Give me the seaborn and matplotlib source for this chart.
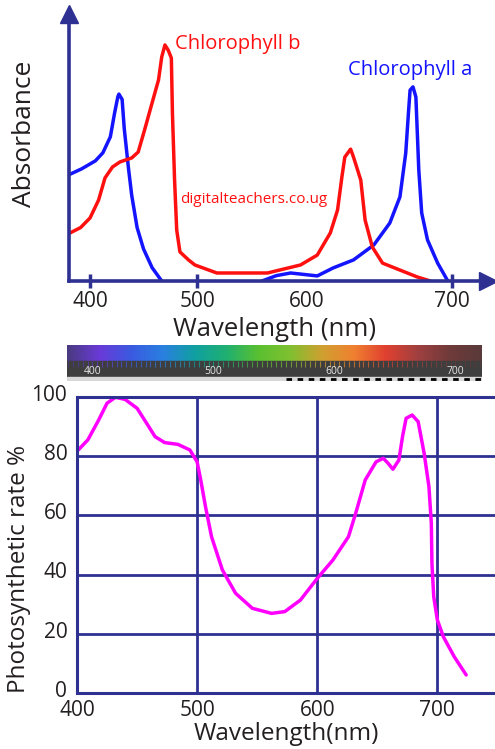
"""
Absorption spectra of chlorophyll a / b and the action spectrum of photosynthesis
"""

import numpy as np
import pandas as pd
import matplotlib
matplotlib.use('Agg')
import matplotlib.pyplot as plt
from matplotlib.colors import LinearSegmentedColormap
from matplotlib.transforms import ScaledTranslation
import seaborn as sns

sns.set_style('white')
plt.rcParams['font.family'] = ['Open Sans', 'DejaVu Sans']

# ---- data ----
# chlorophyll a absorbance (two traced pieces of the curve)
chl_a_blue_nm = [381, 392, 405, 412, 419, 423, 426, 427, 430, 432, 436, 439, 444, 450, 458, 467]
chl_a_blue_abs = [0.40, 0.42, 0.45, 0.48, 0.54, 0.63, 0.69, 0.70, 0.68, 0.57, 0.42, 0.32,
                  0.20, 0.12, 0.05, 0.0]
chl_a_red_nm = [559, 572, 585, 594, 607, 618, 632, 646, 657, 664, 668, 670, 671, 673, 675,
                677, 679, 683, 690, 697]
chl_a_red_abs = [0.0, 0.02, 0.03, 0.026, 0.019, 0.049, 0.079, 0.135, 0.217, 0.315, 0.479,
                 0.64, 0.715, 0.727, 0.689, 0.416, 0.255, 0.154, 0.067, 0.0]

# chlorophyll b absorbance
chl_b_nm = [381, 391, 400, 408, 414, 421, 428, 439, 445, 451, 458, 464, 467, 470, 473, 476,
            477, 479, 481, 484, 492, 498, 518, 564, 594, 607, 616, 621, 624, 626, 630, 632,
            637, 640, 645, 652, 664, 676, 685]
chl_b_abs = [0.18, 0.20, 0.236, 0.303, 0.386, 0.427, 0.446, 0.461, 0.483, 0.566, 0.667,
             0.753, 0.839, 0.884, 0.865, 0.835, 0.629, 0.378, 0.191, 0.109, 0.079, 0.06,
             0.03, 0.03, 0.06, 0.097, 0.18, 0.266, 0.39, 0.464, 0.494, 0.464, 0.378, 0.228,
             0.127, 0.067, 0.041, 0.015, 0.0]

# photosynthetic rate (action spectrum), %
action_nm = [401, 409, 418, 425, 432, 440, 450, 458, 465, 473, 484, 494, 500, 503, 507, 512,
             521, 532, 546, 562, 573, 586, 600, 613, 626, 632, 640, 649, 655, 659, 663, 668,
             671, 674, 679, 684, 689, 693, 695, 695.5, 697, 700, 705, 714, 724]
action_rate = [82.1, 85.5, 92.2, 97.9, 99.9, 99.2, 96.2, 91.1, 86.6, 84.6, 84.0, 82.1, 78.1,
               72.0, 62.9, 52.8, 41.6, 33.7, 28.6, 26.9, 27.5, 31.4, 38.7, 44.9, 52.8, 60.7,
               72.0, 78.1, 79.3, 77.6, 75.6, 78.7, 86.6, 92.8, 93.9, 91.7, 81.0, 69.7, 57.3,
               43.8, 32.5, 24.7, 19.0, 12.3, 6.1]

# visible spectrum strip
spectrum_colors = ['#4a3a80', '#6a3ad8', '#3a5ae0', '#2a80e0', '#10a0a0', '#20b070',
                   '#5ac030', '#80c030', '#d0a030', '#f08030', '#e04030', '#a04040',
                   '#703a3a', '#5a3a3a']
spectrum_ticks = [400, 500, 600, 700]

wave_ticks = [400, 500, 600, 700]
rate_ticks = [0, 20, 40, 60, 80, 100]

NAVY = '#2e3192'
TEXT = '#231f20'
W, H = 495, 749


def rect(left, top, right, bottom):
    # pixel box -> figure fraction
    return [left / W, 1 - bottom / H, (right - left) / W, (bottom - top) / H]


fig = plt.figure(figsize=(4.95, 7.49), dpi=100)
line_kw = dict(lw=2.5, solid_joinstyle='round', solid_capstyle='round')

# ---- top: absorbance ----
ax1 = fig.add_axes(rect(69, 14, 488, 281))
# the original drawing is not evenly spaced along x
nm_anchor = [380, 400, 500, 600, 700, 730]
px_anchor = [69, 90, 197, 307, 452, 495]
ax1.set_xscale('function', functions=(lambda v: np.interp(v, nm_anchor, px_anchor),
                                      lambda p: np.interp(p, px_anchor, nm_anchor)))
sns.lineplot(x=chl_a_blue_nm, y=chl_a_blue_abs, ax=ax1, color='#1414ff', **line_kw)
sns.lineplot(x=chl_a_red_nm, y=chl_a_red_abs, ax=ax1, color='#1414ff', **line_kw)
sns.lineplot(x=chl_b_nm, y=chl_b_abs, ax=ax1, color='#ff1010', **line_kw)
ax1.set_xlim(380, 725)
ax1.set_ylim(0, 1)
for s in ['top', 'right']:
    ax1.spines[s].set_visible(False)
for s in ['left', 'bottom']:
    ax1.spines[s].set_color(NAVY)
    ax1.spines[s].set_linewidth(2.6)
ax1.plot(1, 0, '>', transform=ax1.transAxes, clip_on=False, ms=13, color=NAVY)
ax1.plot(0, 1, '^', transform=ax1.transAxes, clip_on=False, ms=13, color=NAVY)
ax1.set_xticks(wave_ticks)
ax1.set_xticklabels([str(t) for t in wave_ticks], fontsize=15, color=TEXT)
ax1.tick_params(axis='x', direction='inout', length=10, width=2.5, color=NAVY, pad=2,
                bottom=True)
ax1.xaxis.get_major_ticks()[2].tick1line.set_visible(False)
ax1.set_yticks([])
ax1.set_xlabel('Wavelength (nm)', fontsize=18.5, color=TEXT)
ax1.set_ylabel('Absorbance', fontsize=19, color=TEXT)
ax1.xaxis.set_label_coords(0.49, -0.135)
ax1.yaxis.set_label_coords(-0.076, 0.55)
ax1.text(479, 0.887, 'Chlorophyll b', color='#ff1010', fontsize=14.5, va='center', ha='left')
ax1.text(628, 0.79, 'Chlorophyll a', color='#1414ff', fontsize=14.5, va='center', ha='left')
ax1.text(484, 0.307, 'digitalteachers.co.ug', color='#ff1010', fontsize=11, va='center',
         ha='left')

# ---- spectrum strip ----
ax2 = fig.add_axes(rect(67, 345, 482, 381))
cmap = LinearSegmentedColormap.from_list('spec', spectrum_colors)
ax2.imshow(np.linspace(0, 1, 256)[None, :], cmap=cmap, aspect='auto',
           extent=(379, 722, 0.55, 1.0))
ax2.axhspan(0.1, 0.55, color='#3e3e3e')
ax2.axhspan(0.0, 0.1, color='#d8d8d8')
minor = np.arange(380, 722, 4)
ax2.vlines(minor, 0.4, 0.55, colors=cmap((minor - 379) / 343), lw=0.8, alpha=0.7)
ax2.hlines(0.05, 560, 722, colors='black', lw=2, linestyles=(0, (2, 2)))
for t in spectrum_ticks:
    ax2.text(t, 0.27, str(t), color='#e8e8e8', fontsize=7.5, ha='center', va='center')
ax2.set_xlim(379, 722)
ax2.set_ylim(0, 1)
ax2.axis('off')

# ---- bottom: photosynthetic rate ----
ax3 = fig.add_axes(rect(77, 397, 495, 693))
df = pd.DataFrame({'nm': action_nm, 'rate': action_rate})
sns.lineplot(data=df, x='nm', y='rate', ax=ax3, color='#ff00ff', sort=False, **line_kw)
ax3.set_xlim(400, 748)
ax3.set_ylim(0, 100)
ax3.set_xticks(wave_ticks)
ax3.set_yticks(rate_ticks)
ax3.set_xticklabels([str(t) for t in wave_ticks], fontsize=15, color=TEXT)
ax3.set_yticklabels([str(t) for t in rate_ticks], fontsize=15, color=TEXT)
ax3.tick_params(axis='x', length=0, pad=5)
ax3.tick_params(axis='y', length=0, pad=7)
# y numbers sit a little above their grid lines in the original
lift = ScaledTranslation(0, 3 / 72, fig.dpi_scale_trans)
for lab in ax3.get_yticklabels():
    lab.set_transform(lab.get_transform() + lift)
ax3.grid(True, color=NAVY, lw=2)
ax3.set_axisbelow(True)
for s in ['top', 'left', 'bottom']:
    ax3.spines[s].set_color(NAVY)
    ax3.spines[s].set_linewidth(2.2)
ax3.spines['right'].set_visible(False)
ax3.set_xlabel('Wavelength(nm)', fontsize=17.5, color=TEXT)
ax3.set_ylabel('Photosynthetic rate %', fontsize=17.5, color=TEXT)
ax3.xaxis.set_label_coords(0.50, -0.098)
ax3.yaxis.set_label_coords(-0.11, 0.42)

plt.savefig('out.png', dpi=100)
plt.close()
